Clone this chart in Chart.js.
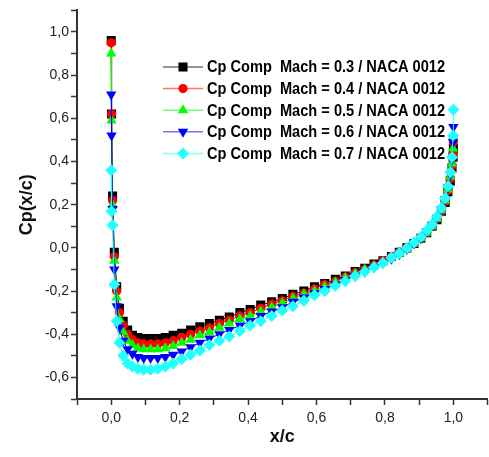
<!DOCTYPE html>
<html>
<head>
<meta charset="utf-8">
<script src="https://cdn.jsdelivr.net/npm/chart.js@4.4.1/dist/chart.umd.min.js"></script>
<style>
  html, body { margin: 0; padding: 0; overflow: hidden; background: #fff; }
  #wrap { width: 494px; height: 457px; }
</style>
</head>
<body>
<div id="wrap"><canvas id="cp" width="494" height="457"></canvas></div>
<script>
// chord stations (x/c), clustered toward both edges
const xc = [0, 0.001, 0.004, 0.009, 0.016, 0.024, 0.035, 0.048, 0.062, 0.078,
  0.095, 0.115, 0.136, 0.158, 0.181, 0.206, 0.232, 0.259, 0.287, 0.316,
  0.345, 0.376, 0.406, 0.437, 0.469, 0.5, 0.531, 0.563, 0.594, 0.624,
  0.655, 0.684, 0.713, 0.741, 0.768, 0.794, 0.819, 0.842, 0.864, 0.885,
  0.905, 0.922, 0.938, 0.952, 0.965, 0.976, 0.984, 0.991, 0.996, 0.999, 1.0];

const cpM03 = [0.96, 0.62, 0.24, -0.02, -0.18, -0.28, -0.34, -0.38, -0.405, -0.415,
  -0.42, -0.42, -0.42, -0.415, -0.405, -0.395, -0.38, -0.365, -0.35, -0.335,
  -0.32, -0.30, -0.285, -0.265, -0.25, -0.235, -0.215, -0.2, -0.18, -0.165,
  -0.145, -0.13, -0.11, -0.095, -0.075, -0.06, -0.04, -0.02, 0.0, 0.02,
  0.045, 0.07, 0.1, 0.13, 0.17, 0.21, 0.26, 0.31, 0.37, 0.42, 0.46];

const cpM04 = [0.95, 0.62, 0.22, -0.04, -0.20, -0.30, -0.36, -0.40, -0.425, -0.44,
  -0.445, -0.445, -0.445, -0.44, -0.43, -0.415, -0.40, -0.385, -0.37, -0.35,
  -0.335, -0.315, -0.30, -0.28, -0.26, -0.245, -0.225, -0.21, -0.19, -0.17,
  -0.155, -0.135, -0.115, -0.1, -0.08, -0.06, -0.04, -0.02, 0.0, 0.02,
  0.045, 0.07, 0.1, 0.135, 0.17, 0.215, 0.265, 0.32, 0.38, 0.44, 0.49];

const cpM05 = [0.90, 0.59, 0.20, -0.06, -0.23, -0.33, -0.39, -0.43, -0.45, -0.465,
  -0.47, -0.47, -0.47, -0.465, -0.455, -0.44, -0.425, -0.405, -0.39, -0.37,
  -0.35, -0.33, -0.315, -0.295, -0.275, -0.255, -0.235, -0.215, -0.2, -0.18,
  -0.16, -0.14, -0.12, -0.1, -0.085, -0.065, -0.045, -0.025, -0.005, 0.02,
  0.045, 0.07, 0.1, 0.135, 0.175, 0.22, 0.27, 0.33, 0.39, 0.46, 0.52];

const cpM06 = [0.71, 0.52, 0.18, -0.10, -0.27, -0.37, -0.43, -0.47, -0.49, -0.505,
  -0.51, -0.51, -0.51, -0.505, -0.495, -0.48, -0.46, -0.44, -0.42, -0.40,
  -0.38, -0.36, -0.34, -0.315, -0.295, -0.275, -0.25, -0.23, -0.21, -0.19,
  -0.17, -0.15, -0.13, -0.11, -0.09, -0.07, -0.05, -0.03, -0.005, 0.02,
  0.045, 0.075, 0.105, 0.14, 0.18, 0.225, 0.28, 0.34, 0.41, 0.49, 0.56];

const cpM07 = [0.36, 0.17, 0.105, -0.17, -0.34, -0.44, -0.50, -0.535, -0.55, -0.56,
  -0.565, -0.565, -0.56, -0.55, -0.535, -0.515, -0.495, -0.475, -0.45, -0.43,
  -0.41, -0.385, -0.36, -0.34, -0.315, -0.29, -0.27, -0.245, -0.22, -0.2,
  -0.175, -0.155, -0.13, -0.11, -0.09, -0.07, -0.045, -0.025, 0.0, 0.025,
  0.05, 0.08, 0.11, 0.145, 0.185, 0.23, 0.285, 0.35, 0.42, 0.52, 0.64];

const machs = ['0.3', '0.4', '0.5', '0.6', '0.7'];
const seriesCp = [cpM03, cpM04, cpM05, cpM06, cpM07];
const colors = ['#000000', '#ff0000', '#00ff00', '#0000ff', '#22ffff'];
const markers = [
  { style: 'rect', rot: 0, r: 6.4 },
  { style: 'circle', rot: 0, r: 4.6 },
  { style: 'triangle', rot: 0, r: 6 },
  { style: 'triangle', rot: 180, r: 6 },
  { style: 'rectRot', rot: 0, r: 6 }
];

const datasets = seriesCp.map((cp, i) => ({
  label: 'Cp Comp  Mach = ' + machs[i] + ' / NACA 0012',
  data: xc.map((x, k) => ({ x: x, y: cp[k] })),
  borderColor: colors[i],
  backgroundColor: colors[i],
  borderWidth: 1,
  pointStyle: markers[i].style,
  pointRotation: markers[i].rot,
  pointRadius: markers[i].r,
  pointBorderWidth: 0,
  tension: 0,
  order: 5 - i
}));

const fmt = v => Math.round(v * 10) % 2 === 0 ? v.toFixed(1).replace('.', ',') : '';

// legend drawn by hand inside the plot, upper right
const legendBox = {
  id: 'legendBox',
  afterDraw(chart) {
    const ctx = chart.ctx;
    chart.data.datasets.forEach((ds, i) => {
      const y = 67 + i * 21.6;
      ctx.save();
      ctx.globalAlpha = 0.55;
      ctx.strokeStyle = ds.borderColor;
      ctx.lineWidth = 1.5;
      ctx.beginPath();
      ctx.moveTo(163, y);
      ctx.lineTo(203, y);
      ctx.stroke();
      ctx.globalAlpha = 1;
      ctx.fillStyle = ds.backgroundColor;
      Chart.helpers.drawPoint(ctx, {
        pointStyle: ds.pointStyle, rotation: ds.pointRotation,
        radius: ds.pointRadius, borderWidth: 0
      }, 183, y);
      ctx.font = 'bold 16px "Liberation Sans", Arial, sans-serif';
      ctx.textBaseline = 'middle';
      ctx.fillStyle = '#000';
      const w = ctx.measureText(ds.label).width;
      ctx.translate(207, y + 1);
      ctx.scale(238 / w, 1);
      ctx.fillText(ds.label, 0, 0);
      ctx.restore();
    });
  }
};

const axisColor = '#333333';
const tickFont = { family: '"Liberation Sans", Arial, sans-serif', size: 14 };
const titleFont = { family: '"Liberation Sans", Arial, sans-serif', size: 18, weight: 'bold', lineHeight: 1.2 };

new Chart(document.getElementById('cp'), {
  type: 'line',
  data: { datasets: datasets },
  options: {
    responsive: false,
    animation: false,
    events: [],
    layout: { padding: { top: 7, right: 1, left: 0, bottom: 0 } },
    plugins: { legend: { display: false }, tooltip: { enabled: false } },
    scales: {
      x: {
        type: 'linear',
        min: -0.1,
        max: 1.1,
        afterFit: s => { s.height = 58; },
        border: { display: true, color: axisColor, width: 2 },
        grid: { drawOnChartArea: false, drawTicks: true, tickLength: 6, tickColor: axisColor, tickWidth: 1.5 },
        ticks: { stepSize: 0.1, autoSkip: false, maxRotation: 0, padding: 5, color: '#222', font: tickFont, callback: fmt },
        title: { display: true, text: 'x/c', color: '#111', font: titleFont, padding: { top: 0, bottom: 9 } }
      },
      y: {
        type: 'linear',
        min: -0.7,
        max: 1.1,
        afterFit: s => { s.width = 77; },
        border: { display: true, color: axisColor, width: 2 },
        grid: { drawOnChartArea: false, drawTicks: true, tickLength: 6, tickColor: axisColor, tickWidth: 1.5 },
        ticks: { stepSize: 0.1, autoSkip: false, padding: 2, color: '#222', font: tickFont, callback: fmt },
        title: { display: true, text: 'Cp(x/c)', color: '#111', font: titleFont, padding: { top: 16, bottom: 0 } }
      }
    }
  },
  plugins: [legendBox]
});
</script>
</body>
</html>
